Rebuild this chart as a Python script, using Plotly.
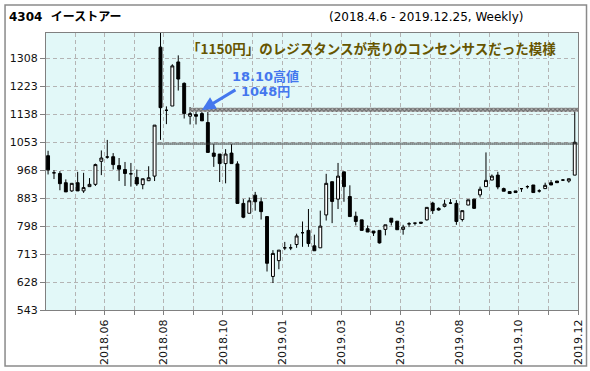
import plotly.graph_objects as go

# ---- data (weekly OHLC) ----
opens = [1012, 960, 958, 930, 905, 930, 905, 918, 925, 995,
         1008, 1009, 982, 970, 957, 946, 924, 936, 950, 1342,
         1150, 1163, 1297, 1232, 1132, 1137, 1140, 1113, 1020, 1017,
         988, 1020, 987, 867, 837, 892, 872, 827, 645, 693,
         732, 732, 742, 778, 785, 738, 732, 832, 933, 880,
         963, 888, 828, 817, 790, 783, 785, 788, 822, 813,
         788, 805, 807, 810, 817, 868, 852, 858, 868, 867,
         818, 862, 880, 893, 918, 938, 953, 912, 903, 905,
         912, 918, 923, 905, 912, 930, 935, 938, 935, 953]
highs = [1027, 968, 965, 940, 928, 963, 960, 944, 988, 1028,
         1060, 1020, 1005, 993, 990, 970, 942, 980, 1105, 1400,
         1162, 1290, 1317, 1235, 1160, 1150, 1150, 1145, 1047, 1017,
         1032, 1047, 995, 880, 885, 902, 885, 827, 725, 725,
         750, 743, 775, 812, 850, 772, 845, 957, 933, 990,
         963, 922, 842, 817, 800, 783, 785, 802, 822, 813,
         802, 810, 808, 810, 855, 872, 855, 878, 880, 877,
         845, 878, 880, 918, 1022, 955, 963, 915, 903, 905,
         912, 922, 923, 910, 930, 938, 935, 941, 942, 1153]
lows = [955, 941, 907, 902, 902, 905, 899, 918, 920, 953,
        1003, 970, 935, 920, 918, 920, 910, 935, 935, 1060,
        1108, 1163, 1210, 1125, 1107, 1107, 1118, 1022, 978, 932,
        928, 988, 867, 822, 837, 845, 818, 660, 625, 667,
        725, 725, 732, 735, 735, 723, 732, 815, 807, 850,
        872, 827, 800, 785, 780, 768, 745, 770, 800, 787,
        772, 795, 800, 805, 815, 835, 845, 855, 865, 802,
        812, 862, 850, 885, 918, 938, 910, 904, 897, 900,
        902, 912, 900, 900, 912, 923, 930, 935, 930, 953]
closes = [969, 960, 927, 902, 928, 905, 915, 925, 985, 1005,
          1008, 985, 971, 958, 957, 926, 942, 945, 1105, 1158,
          1150, 1285, 1245, 1140, 1140, 1132, 1118, 1022, 1010, 988,
          1017, 988, 867, 825, 875, 872, 842, 685, 715, 725,
          732, 732, 768, 778, 745, 723, 798, 928, 873, 950,
          918, 827, 812, 785, 780, 777, 747, 802, 810, 787,
          795, 805, 807, 807, 855, 845, 847, 865, 868, 812,
          845, 878, 852, 910, 937, 950, 917, 904, 897, 900,
          912, 918, 900, 905, 922, 923, 930, 938, 942, 1053]

x_labels = ["2018.06", "2018.08", "2018.10", "2019.01", "2019.03",
            "2019.05", "2019.08", "2019.10", "2019.12"]
y_ticks = [543, 628, 713, 798, 883, 968, 1053, 1138, 1223, 1308]

upper_band = [1145, 1158]   # resistance zone
lower_band = [1048]         # dotted level
upper_band_start = 23.9
lower_band_start = 18.5

n = len(opens)
xs = list(range(n))

fig = go.Figure()

# resistance bands
x_end = n + 1
fig.add_trace(go.Scatter(
    x=[upper_band_start, x_end, x_end, upper_band_start, upper_band_start],
    y=[upper_band[0], upper_band[0], upper_band[1], upper_band[1], upper_band[0]],
    fill="toself", mode="lines", line=dict(width=0, color="rgba(0,0,0,0)"),
    fillcolor="rgba(255,255,255,0)",
    fillpattern=dict(shape="x", size=3, solidity=0.6, fgcolor="#222222", bgcolor="#b8b8b8"),
    hoverinfo="skip", showlegend=False))
fig.add_trace(go.Scatter(
    x=[lower_band_start, x_end], y=[lower_band[0], lower_band[0]],
    mode="lines", line=dict(width=2.5, color="#333333", dash="1px,1px"),
    hoverinfo="skip", showlegend=False))

fig.add_trace(go.Candlestick(
    x=xs, open=opens, high=highs, low=lows, close=closes,
    increasing=dict(line=dict(color="black", width=1), fillcolor="white"),
    decreasing=dict(line=dict(color="black", width=1), fillcolor="black"),
    whiskerwidth=0, showlegend=False, hoverinfo="skip"))

# x ticks every 5 bars, labels every 10 bars
tickvals = [4.55 + 5 * k for k in range(18)]
ticktext = []
li = 0
for k in range(18):
    if k % 2 == 1:
        ticktext.append(x_labels[li]); li += 1
    else:
        ticktext.append("")

grid = dict(showgrid=True, gridcolor="#b4b4b4", gridwidth=1, griddash="4px,3px")
axis_font = dict(family="DejaVu Sans, Verdana, sans-serif", size=11, color="#111111")

fig.update_xaxes(range=[-0.35, 89.55], tickmode="array", tickvals=tickvals, ticktext=ticktext,
                 tickangle=-90, ticks="outside", ticklen=4, tickcolor="#808080",
                 showline=True, linecolor="#808080", linewidth=1, mirror=True, automargin=False,
                 rangeslider=dict(visible=False), tickfont=axis_font, zeroline=False, **grid)
fig.update_yaxes(range=[543, 1385], tickmode="array", tickvals=y_ticks,
                 ticktext=[str(v) for v in y_ticks], automargin=False,
                 ticks="outside", ticklen=5, tickcolor="#808080",
                 showline=True, linecolor="#808080", linewidth=1, mirror=True,
                 tickfont=axis_font, zeroline=False, **grid)

jp = "Noto Sans CJK JP, DejaVu Sans, sans-serif"
annotations = [
    dict(xref="paper", yref="paper", x=-0.073, y=1.056, xanchor="left", yanchor="middle",
         text="<b>4304  イーストアー</b>", showarrow=False,
         font=dict(family="DejaVu Sans, Noto Sans CJK JP", size=12, color="#000000")),
    dict(xref="paper", yref="paper", x=0.900, y=1.056, xanchor="right", yanchor="middle",
         text="(2018.4.6 - 2019.12.25, Weekly)", showarrow=False,
         font=dict(family="DejaVu Sans, Verdana", size=12, color="#000000")),
    dict(xref="paper", yref="paper", x=0.262, y=0.946, xanchor="left", yanchor="middle",
         text="<b>「1150円」のレジスタンスが売りのコンセンサスだった模様</b>", showarrow=False,
         font=dict(family=jp, size=13.5, color="#665500")),
    dict(xref="paper", yref="paper", x=0.412, y=0.844, xanchor="center", yanchor="middle",
         text="<b>18.10高値</b>", showarrow=False,
         font=dict(family="DejaVu Sans, Noto Sans CJK JP", size=13, color="#4477ee")),
    dict(xref="paper", yref="paper", x=0.412, y=0.788, xanchor="center", yanchor="middle",
         text="<b>1048円</b>", showarrow=False,
         font=dict(family="DejaVu Sans, Noto Sans CJK JP", size=13, color="#4477ee")),
    dict(x=26.0, y=1151, xref="x", yref="y", ax=35, ay=-21, text="", showarrow=True,
         arrowhead=2, arrowsize=0.9, arrowwidth=3, arrowcolor="#4477ee"),
]

fig.update_layout(
    width=590, height=371,
    margin=dict(l=46, r=12, t=33, b=61, autoexpand=False),
    paper_bgcolor="white", plot_bgcolor="#e2f8f8",
    annotations=annotations,
    shapes=[dict(type="rect", xref="paper", yref="paper",
                 x0=-0.077, x1=1.016, y0=-0.202, y1=1.101,
                 line=dict(color="#8a8a8a", width=1.5), fillcolor="rgba(0,0,0,0)", layer="below")],
    showlegend=False,
)

fig.write_html("out.html", config={"displayModeBar": False},
               post_script="document.body.style.margin='0';document.body.style.overflow='hidden';")
